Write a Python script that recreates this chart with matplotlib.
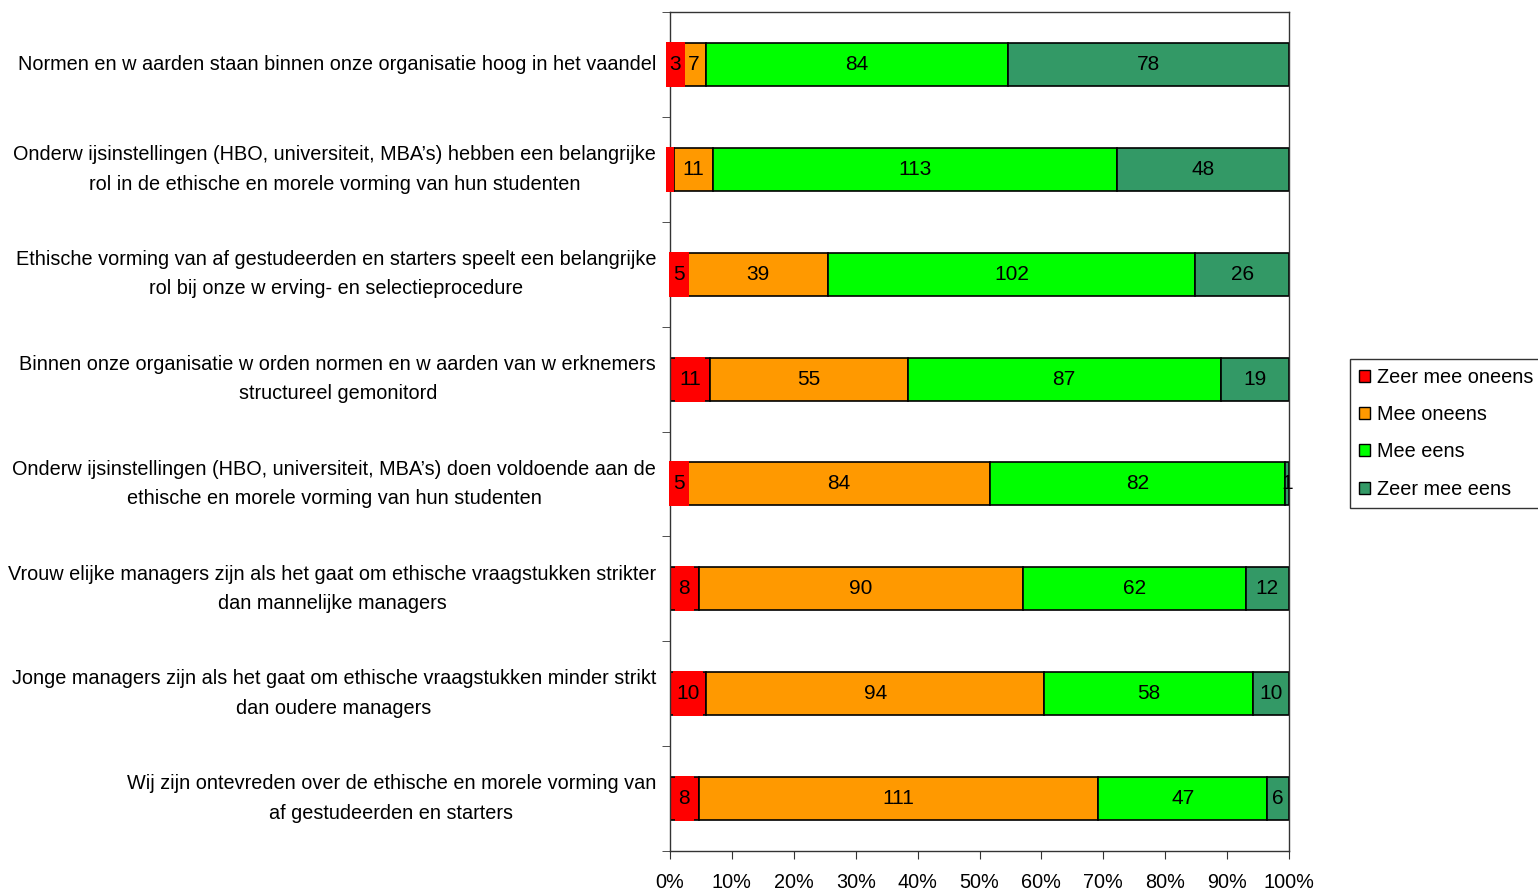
import numpy as np
import matplotlib
matplotlib.use("Agg")
import matplotlib.pyplot as plt
from matplotlib.patches import Patch, Rectangle

plt.rcParams['font.family'] = ['Liberation Sans', 'DejaVu Sans']

statements = [
    "Normen en w aarden staan binnen onze organisatie hoog in het vaandel",
    "Onderw ijsinstellingen (HBO, universiteit, MBA\u2019s) hebben een belangrijke\nrol in de ethische en morele vorming van hun studenten",
    "Ethische vorming van af gestudeerden en starters speelt een belangrijke\nrol bij onze w erving- en selectieprocedure",
    "Binnen onze organisatie w orden normen en w aarden van w erknemers\nstructureel gemonitord",
    "Onderw ijsinstellingen (HBO, universiteit, MBA\u2019s) doen voldoende aan de\nethische en morele vorming van hun studenten",
    "Vrouw elijke managers zijn als het gaat om ethische vraagstukken strikter\ndan mannelijke managers",
    "Jonge managers zijn als het gaat om ethische vraagstukken minder strikt\ndan oudere managers",
    "Wij zijn ontevreden over de ethische en morele vorming van\naf gestudeerden en starters",
]

categories = ["Zeer mee oneens", "Mee oneens", "Mee eens", "Zeer mee eens"]
zeer_oneens = [3, 1, 5, 11, 5, 8, 10, 8]
oneens = [7, 11, 39, 55, 84, 90, 94, 111]
eens = [84, 113, 102, 87, 82, 62, 58, 47]
zeer_eens = [78, 48, 26, 19, 1, 12, 10, 6]
red_label_shown = [True, False, True, True, True, True, True, True]
colors = ["#FF0000", "#FF9900", "#00FF00", "#339966"]

series = np.array([zeer_oneens, oneens, eens, zeer_eens], dtype=float)
totals = series.sum(axis=0)
pct = series / totals * 100

FS = 14.3
FS_VAL = 15
fig = plt.figure(figsize=(15.38, 8.92), dpi=100)
ax_w_px = 619
ax = fig.add_axes([670 / 1538, 1 - 851 / 892, ax_w_px / 1538, 839 / 892])
px = 100 / ax_w_px  # data units per pixel along x

y = np.arange(len(statements))
left = np.zeros(len(statements))
for i in range(4):
    ax.barh(y, pct[i], left=left, height=0.41, color=colors[i],
            edgecolor="black", linewidth=1.2, label=categories[i], zorder=2)
    for j in range(len(statements)):
        xc = left[j] + pct[i, j] / 2
        txt = str(int(series[i, j]))
        if i == 0:
            if red_label_shown[j]:
                w = (len(txt) * 10.5 + 9) * px
            else:
                txt = ""
                w = 8 * px
                xc -= 2 * px
            ax.add_patch(Rectangle((xc - w / 2, y[j] - 0.215), w, 0.43,
                                   facecolor="#FF0000", edgecolor="none",
                                   zorder=3, clip_on=False))
        ax.text(xc, y[j], txt, ha="center", va="center", fontsize=FS_VAL,
                color="black", zorder=4, clip_on=False)
    left += pct[i]

ax.set_xlim(0, 100)
ax.set_ylim(len(statements) - 0.5, -0.5)
ax.set_xticks(np.arange(0, 101, 10))
ax.set_xticklabels([f"{v}%" for v in range(0, 101, 10)], fontsize=FS)
ax.tick_params(axis="x", direction="out", length=6, pad=10, color="#333333")

ax.set_yticks(y)
ax.set_yticklabels(statements, fontsize=FS, ha="right", va="center",
                   multialignment="center", linespacing=1.7)
ax.tick_params(axis="y", which="major", length=0, pad=10)
ax.set_yticks(np.arange(-0.5, len(statements), 1.0), minor=True)
ax.tick_params(axis="y", which="minor", direction="out", length=6, color="#333333")

for s in ax.spines.values():
    s.set_color("#333333")
    s.set_linewidth(1.0)

handles = [Patch(facecolor=c, edgecolor="black", label=l) for c, l in zip(colors, categories)]
leg = fig.legend(handles=handles, loc="upper left", bbox_to_anchor=(1350 / 1538, 1 - 359 / 892),
                 fontsize=FS, frameon=True, fancybox=False, handlelength=0.55,
                 handleheight=0.55, handletextpad=0.35, labelspacing=0.92,
                 borderpad=0.45, borderaxespad=0)
leg.get_frame().set_edgecolor("black")
leg.get_frame().set_linewidth(1.0)

fig.savefig("out.png", dpi=100)
